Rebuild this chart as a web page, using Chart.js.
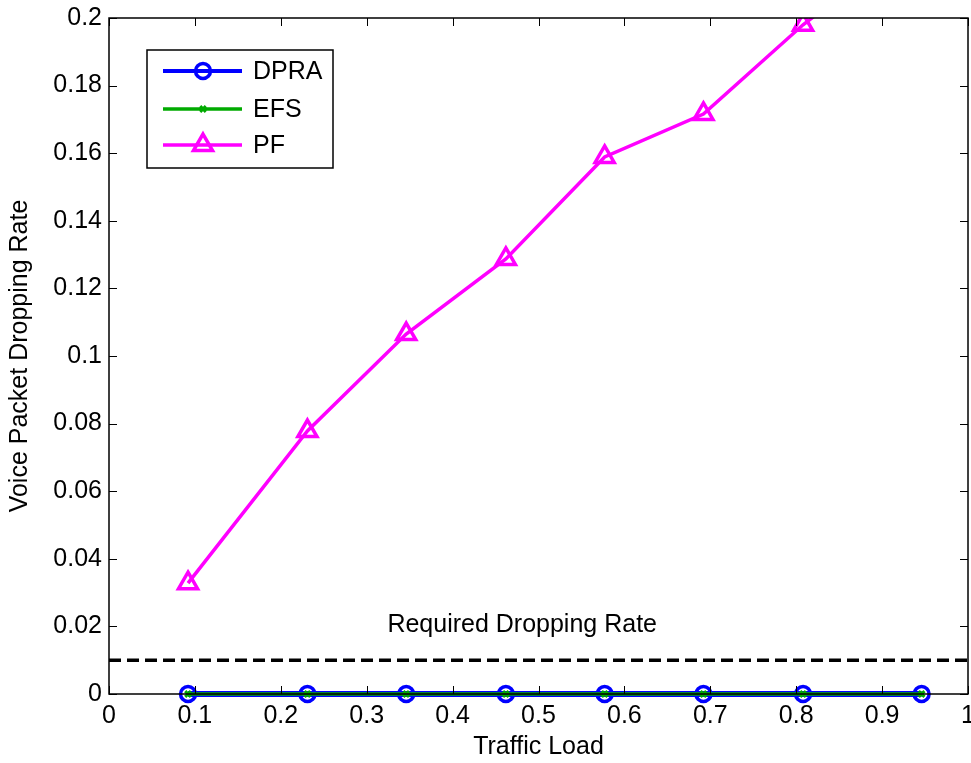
<!DOCTYPE html>
<html>
<head>
<meta charset="utf-8">
<script src="https://cdn.jsdelivr.net/npm/chart.js@4.4.0/dist/chart.umd.min.js"></script>
<style>
  body { margin: 0; background: #fff; }
  canvas { display: block; }
</style>
</head>
<body>
<canvas id="lossChart" width="971" height="763"></canvas>
<script>
// data
const trafficLoad = [0.092, 0.231, 0.346, 0.462, 0.577, 0.692, 0.808, 0.946];
const dpra = [0, 0, 0, 0, 0, 0, 0, 0];
const efs = [0, 0, 0, 0, 0, 0, 0, 0];
const pf = [0.0328, 0.0778, 0.1065, 0.1287, 0.1589, 0.1716, 0.198, 0.225];
const requiredRate = 0.01;
const requiredLabel = 'Required Dropping Rate';

const xTicks = [0, 0.1, 0.2, 0.3, 0.4, 0.5, 0.6, 0.7, 0.8, 0.9, 1];
const xTickLabels = ['0', '0.1', '0.2', '0.3', '0.4', '0.5', '0.6', '0.7', '0.8', '0.9', '1'];
const yTicks = [0, 0.02, 0.04, 0.06, 0.08, 0.1, 0.12, 0.14, 0.16, 0.18, 0.2];
const yTickLabels = ['0', '0.02', '0.04', '0.06', '0.08', '0.1', '0.12', '0.14', '0.16', '0.18', '0.2'];

const FONT = '"Liberation Sans", Arial, sans-serif';
const FSIZE = 25;

function toPoints(xs, ys) {
    return xs.map((x, i) => ({ x: x, y: ys[i] }));
}

// matlab style box, inward ticks, text label and legend
const matlabAxes = {
    id: 'matlabAxes',
    afterDatasetsDraw(chart) {
        const ctx = chart.ctx;
        const area = chart.chartArea;
        const xs = chart.scales.x;
        const ys = chart.scales.y;
        const tick = 8;

        ctx.save();
        ctx.strokeStyle = '#000';
        ctx.lineWidth = 1;
        xTicks.forEach(v => {
            const px = Math.round(xs.getPixelForValue(v)) + 0.5;
            ctx.beginPath();
            ctx.moveTo(px, area.bottom); ctx.lineTo(px, area.bottom - tick);
            ctx.moveTo(px, area.top); ctx.lineTo(px, area.top + tick);
            ctx.stroke();
        });
        yTicks.forEach(v => {
            const py = Math.round(ys.getPixelForValue(v)) + 0.5;
            ctx.beginPath();
            ctx.moveTo(area.left, py); ctx.lineTo(area.left + tick, py);
            ctx.moveTo(area.right, py); ctx.lineTo(area.right - tick, py);
            ctx.stroke();
        });
        ctx.lineWidth = 1.5;
        ctx.strokeRect(area.left, area.top, area.right - area.left, area.bottom - area.top);

        // label above the threshold line
        ctx.fillStyle = '#000';
        ctx.font = FSIZE + 'px ' + FONT;
        ctx.textAlign = 'center';
        ctx.textBaseline = 'middle';
        ctx.fillText(requiredLabel, xs.getPixelForValue(0.481), ys.getPixelForValue(0.0204));

        // legend
        const lx = 147, ly = 50, lw = 186, lh = 118;
        ctx.fillStyle = '#fff';
        ctx.fillRect(lx, ly, lw, lh);
        ctx.strokeStyle = '#000';
        ctx.lineWidth = 1.5;
        ctx.strokeRect(lx, ly, lw, lh);
        const rows = [71, 109, 145];
        const sets = chart.data.datasets.filter(d => !d.hideInLegend);
        sets.forEach((ds, i) => {
            const y = rows[i];
            ctx.strokeStyle = ds.borderColor;
            ctx.lineWidth = ds.legendLineWidth || ds.borderWidth;
            ctx.setLineDash([]);
            ctx.beginPath();
            ctx.moveTo(163, y); ctx.lineTo(242, y);
            ctx.stroke();
            ctx.lineWidth = ds.pointBorderWidth;
            ctx.fillStyle = 'rgba(0,0,0,0)';
            Chart.helpers.drawPoint(ctx, {
                pointStyle: ds.pointStyle,
                radius: ds.pointRadius,
                borderWidth: ds.pointBorderWidth,
                rotation: 0
            }, 203, y);
            ctx.fillStyle = '#000';
            ctx.textAlign = 'left';
            ctx.fillText(ds.label, 253, y + 1);
        });
        ctx.restore();
    }
};

const ctx = document.getElementById('lossChart').getContext('2d');
const chart = new Chart(ctx, {
    type: 'scatter',
    data: {
        datasets: [
            {
                label: 'DPRA',
                data: toPoints(trafficLoad, dpra),
                showLine: true,
                clip: false,
                borderColor: '#0000ff',
                backgroundColor: 'rgba(0,0,0,0)',
                borderWidth: 6,
                legendLineWidth: 4,
                pointStyle: 'circle',
                pointRadius: 7.5,
                pointBorderWidth: 3.5,
                pointBackgroundColor: 'rgba(0,0,0,0)',
                order: 3
            },
            {
                label: 'EFS',
                data: toPoints(trafficLoad, efs),
                showLine: true,
                clip: false,
                borderColor: '#00aa00',
                backgroundColor: 'rgba(0,0,0,0)',
                borderWidth: 3.5,
                pointStyle: 'crossRot',
                pointRadius: 4,
                pointBorderWidth: 3,
                order: 2
            },
            {
                label: 'PF',
                data: toPoints(trafficLoad, pf),
                showLine: true,
                borderColor: '#ff00ff',
                backgroundColor: 'rgba(0,0,0,0)',
                borderWidth: 3.5,
                pointStyle: 'triangle',
                pointRadius: 11,
                pointBorderWidth: 3.5,
                pointBackgroundColor: 'rgba(0,0,0,0)',
                order: 1
            },
            {
                label: 'required',
                hideInLegend: true,
                data: [{ x: 0, y: requiredRate }, { x: 1, y: requiredRate }],
                showLine: true,
                borderColor: '#000',
                borderWidth: 3.5,
                borderDash: [12, 6],
                pointRadius: 0,
                order: 4
            }
        ]
    },
    options: {
        responsive: false,
        animation: false,
        layout: { autoPadding: false, padding: { top: 18, right: 3, left: 0, bottom: 0 } },
        plugins: {
            legend: { display: false },
            tooltip: { enabled: false }
        },
        scales: {
            x: {
                type: 'linear',
                min: 0,
                max: 1,
                grid: { display: false, drawTicks: false },
                border: { display: false },
                afterBuildTicks: s => { s.ticks = xTicks.map(v => ({ value: v })); },
                afterFit: s => { s.height = 69; s.paddingLeft = 0; s.paddingRight = 0; },
                ticks: {
                    padding: 7,
                    color: '#000',
                    font: { family: FONT, size: FSIZE },
                    maxRotation: 0,
                    autoSkip: false,
                    callback: (v, i) => xTickLabels[i]
                },
                title: {
                    display: true,
                    text: 'Traffic Load',
                    color: '#000',
                    font: { family: FONT, size: FSIZE },
                    padding: { top: 0, bottom: 1 }
                }
            },
            y: {
                type: 'linear',
                min: 0,
                max: 0.2,
                grid: { display: false, drawTicks: false },
                border: { display: false },
                afterBuildTicks: s => { s.ticks = yTicks.map(v => ({ value: v })); },
                afterFit: s => { s.width = 109; s.paddingTop = 0; s.paddingBottom = 0; },
                ticks: {
                    padding: 7,
                    color: '#000',
                    font: { family: FONT, size: FSIZE },
                    autoSkip: false,
                    callback: (v, i) => yTickLabels[i]
                },
                title: {
                    display: true,
                    text: 'Voice Packet Dropping Rate',
                    color: '#000',
                    font: { family: FONT, size: FSIZE },
                    padding: { top: 5, bottom: 0 }
                }
            }
        }
    },
    plugins: [matlabAxes]
});
</script>
</body>
</html>
